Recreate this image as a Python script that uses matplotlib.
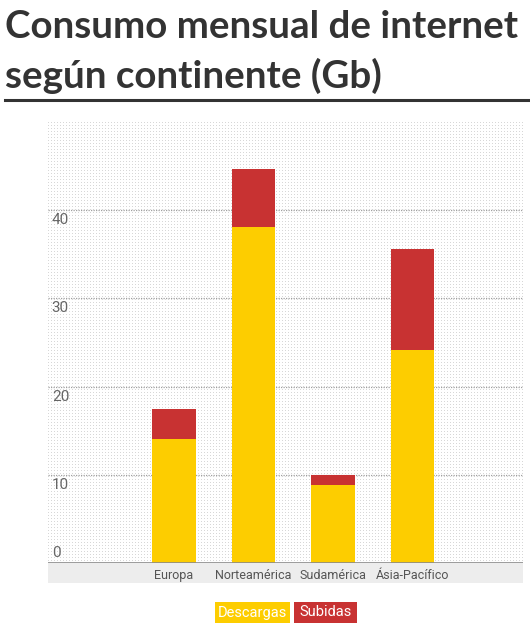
import numpy as np
import matplotlib
matplotlib.use('Agg')
import matplotlib.pyplot as plt
from matplotlib.patches import Rectangle
from matplotlib.lines import Line2D

# datos
continentes = ['Europa', 'Norteamérica', 'Sudamérica', 'Ásia-Pacífico']
descargas = [14.1, 38.1, 8.9, 24.1]
subidas = [3.4, 6.6, 1.1, 11.5]
yticks = [0, 10, 20, 30, 40]
series = ['Descargas', 'Subidas']

amarillo = '#fdcd00'
rojo = '#c83232'

W, H = 530, 628
fig = plt.figure(figsize=(W/100, H/100), dpi=100)
fig.patch.set_facecolor('white')

# caja del grafico en pixeles
x0, x1 = 48, 523
y_top, y_base = 122, 563
ax = fig.add_axes([x0/W, 1 - y_base/H, (x1-x0)/W, (y_base-y_top)/H])

# fondo punteado
nx, ny = x1 - x0, y_base - y_top
ii, jj = np.indices((ny, nx))
patron = np.where((ii % 3 == 0) & (jj % 3 == 0), 0.84, 1.0)
ax.imshow(patron, cmap='gray', vmin=0, vmax=1, extent=[0, 1, 0, 1],
          transform=ax.transAxes, aspect='auto', interpolation='nearest', zorder=0)

pos = np.arange(len(continentes))
ax.bar(pos, descargas, width=0.55, color=amarillo, zorder=3)
ax.bar(pos, subidas, width=0.55, bottom=descargas, color=rojo, zorder=3)

ax.set_xlim(-1.585, 4.39)
ax.set_ylim(0, 50)

for t in yticks[1:]:
    ax.axhline(t, color='#a0a0a0', lw=0.9, ls=(0, (1, 1)), zorder=2)
ax.axhline(0, color='#8a8a8a', lw=1.2, zorder=4)

for t in yticks:
    if t == 0:
        ax.text(0.008, t + 0.3, str(t), transform=ax.get_yaxis_transform(),
                ha='left', va='bottom', fontsize=11, color='#666666', family='Roboto')
    else:
        ax.text(0.008, t - 0.35, str(t), transform=ax.get_yaxis_transform(),
                ha='left', va='top', fontsize=11, color='#666666', family='Roboto')

ax.set_yticks([])
ax.set_xticks(pos)
ax.set_xticklabels(continentes, fontsize=9, color='#555555', family='Roboto')
ax.tick_params(axis='x', length=0, pad=4)
for s in ax.spines.values():
    s.set_visible(False)

# banda gris bajo el eje
fig.patches.append(Rectangle((x0/W, 1 - 583/H), (x1-x0)/W, 20/H,
                             transform=fig.transFigure, facecolor='#ededed',
                             edgecolor='none', zorder=-1))

# titulo (dos lineas separadas)
fig.text(5/W, 1 - 38/H, 'Consumo mensual de internet', ha='left', va='baseline',
         fontsize=27.7, fontweight='bold', color='#333333', family='Lato')
fig.text(5/W, 1 - 88/H, 'según continente (Gb)', ha='left', va='baseline',
         fontsize=27.7, fontweight='bold', color='#333333', family='Lato')
fig.add_artist(Line2D([5/W, 1], [1 - 100/H, 1 - 100/H], color='#333333', lw=2.2,
                      transform=fig.transFigure))

# leyenda: cajas de color con el texto dentro
cajas = [(215, 75, amarillo), (294, 63, rojo)]
for nombre, (lx, lw_, col) in zip(series, cajas):
    fig.patches.append(Rectangle((lx/W, 1 - 623/H), lw_/W, 21/H,
                                 transform=fig.transFigure, facecolor=col,
                                 edgecolor='none'))
    fig.text((lx + lw_/2)/W, 1 - 612.5/H, nombre, ha='center', va='center',
             fontsize=10.5, color='white', family='Roboto')

fig.savefig('out.png', dpi=100)
